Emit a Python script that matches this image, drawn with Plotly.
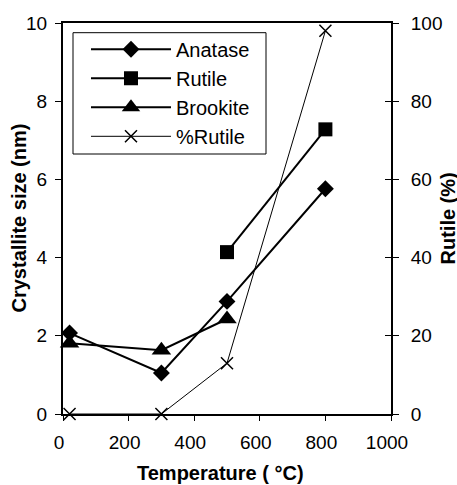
import plotly.graph_objects as go

# Calcination temperature (°C)
temperature = [20, 300, 500, 800]

# Crystallite sizes (nm) of each TiO2 phase
anatase = [2.07, 1.05, 2.88, 5.76]
rutile = [None, None, 4.14, 7.28]
brookite = [1.81, 1.63, 2.43, None]

# Fraction of rutile (%)
pct_rutile = [0, 0, 13, 98]

x_ticks = [0, 200, 400, 600, 800, 1000]
y_ticks = [0, 2, 4, 6, 8, 10]
y2_ticks = [0, 20, 40, 60, 80, 100]

FONT = "Liberation Sans, Arial, Helvetica, sans-serif"
BLACK = "black"

fig = go.Figure()

fig.add_trace(go.Scatter(
    x=temperature, y=anatase, name="Anatase", mode="lines+markers",
    line=dict(color=BLACK, width=2),
    marker=dict(symbol="diamond", size=13, color=BLACK),
    cliponaxis=False,
))
fig.add_trace(go.Scatter(
    x=temperature, y=rutile, name="Rutile", mode="lines+markers",
    line=dict(color=BLACK, width=2),
    marker=dict(symbol="square", size=14, color=BLACK),
    cliponaxis=False,
))
fig.add_trace(go.Scatter(
    x=temperature, y=brookite, name="Brookite", mode="lines+markers",
    line=dict(color=BLACK, width=2),
    marker=dict(symbol="triangle-up", size=17, color=BLACK),
    cliponaxis=False,
))
fig.add_trace(go.Scatter(
    x=temperature, y=pct_rutile, name="%Rutile", mode="lines+markers",
    yaxis="y2",
    line=dict(color=BLACK, width=1),
    marker=dict(symbol="x-thin", size=12, color=BLACK,
                line=dict(color=BLACK, width=1.5)),
    cliponaxis=False,
))
# invisible trace carrying the inward half of the right-hand tick marks
fig.add_trace(go.Scatter(
    x=[None], y=[None], yaxis="y3", showlegend=False, hoverinfo="skip",
))

tick_font = dict(family=FONT, size=19, color=BLACK)
title_font = dict(family=FONT, size=20, color=BLACK, weight="bold")

fig.update_layout(
    width=457, height=485,
    margin=dict(l=63, r=66, t=23, b=71),
    paper_bgcolor="white", plot_bgcolor="white",
    font=dict(family=FONT, color=BLACK),
    xaxis=dict(
        range=[0, 1000], tickvals=x_ticks, ticks="outside", ticklen=5,
        tickwidth=1, tickcolor=BLACK, showgrid=False, zeroline=False,
        showline=True, linecolor=BLACK, linewidth=2, mirror=True,
        tickfont=tick_font, automargin=False, ticklabelstandoff=5,
        ticklabelshift=-4,
    ),
    yaxis=dict(
        range=[0, 10], tickvals=y_ticks, ticks="outside", ticklen=6,
        tickwidth=1, tickcolor=BLACK, showgrid=False, zeroline=False,
        showline=True, linecolor=BLACK, linewidth=2,
        tickfont=tick_font, automargin=False, ticklabelstandoff=4,
    ),
    yaxis2=dict(
        range=[0, 100], tickvals=y2_ticks, ticks="outside", ticklen=6,
        tickwidth=1, tickcolor=BLACK, showgrid=False, zeroline=False,
        showline=True, linecolor=BLACK, linewidth=2,
        overlaying="y", side="right", anchor="x",
        tickfont=tick_font, automargin=False, ticklabelstandoff=8,
    ),
    yaxis3=dict(
        range=[0, 100], tickvals=y2_ticks, ticks="inside", ticklen=6,
        tickwidth=1, tickcolor=BLACK, showgrid=False, zeroline=False,
        showline=False, showticklabels=False, automargin=False,
        overlaying="y", side="right", anchor="x",
    ),
    legend=dict(
        x=0.0701, y=0.9826, xanchor="left", yanchor="top",
        bgcolor="rgba(0,0,0,0)", borderwidth=0,
        font=dict(family=FONT, size=20, color=BLACK),
        itemwidth=80, tracegroupgap=0,
    ),
    showlegend=True,
    # legend frame
    shapes=[dict(
        type="rect", xref="paper", yref="paper",
        x0=(73 - 63) / 328, x1=(266 - 63) / 328,
        y0=1 - (154 - 23) / 391, y1=1 - (32.7 - 23) / 391,
        line=dict(color=BLACK, width=1), fillcolor="white", layer="below",
    )],
    annotations=[
        dict(text="Temperature ( °C)", xref="paper", yref="paper",
             x=0.48, y=0, yshift=-59, xanchor="center", yanchor="middle",
             showarrow=False, font=title_font),
        dict(text="Crystallite size (nm)", xref="paper", yref="paper",
             x=0, y=0.5, xshift=-45, xanchor="center", yanchor="middle",
             textangle=-90, showarrow=False, font=title_font),
        dict(text="Rutile (%)", xref="paper", yref="paper",
             x=1, y=0.5, xshift=56, xanchor="center", yanchor="middle",
             textangle=-90, showarrow=False, font=title_font),
    ],
)

fig.write_html("out.html")
